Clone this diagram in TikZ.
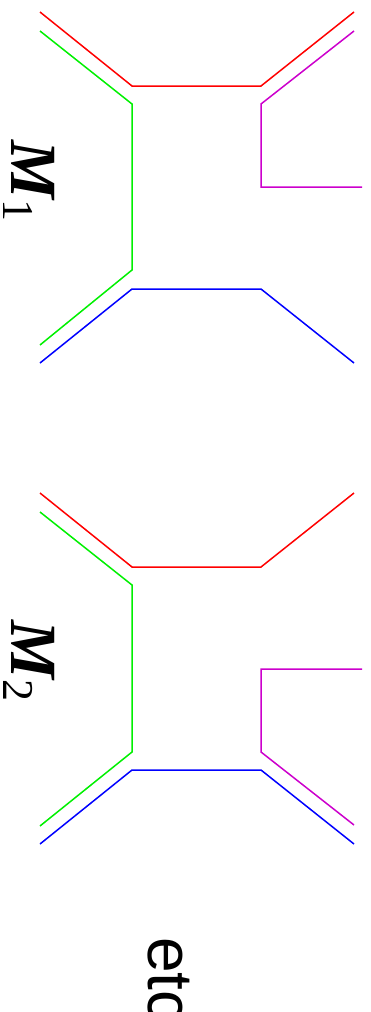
\documentclass[tikz,border=0pt]{standalone}
\usepackage{fontspec}
\setmainfont{Liberation Serif}
\newfontfamily\etcfont{Liberation Sans}
\definecolor{lred}{RGB}{255,0,0}
\definecolor{lgreen}{RGB}{0,240,0}
\definecolor{lmag}{RGB}{204,0,204}
\definecolor{lblue}{RGB}{0,0,255}
\tikzset{
  leg/.style={line width=1.5pt},
  lab/.style={rotate=-90, anchor=base west, inner sep=0pt, outer sep=0pt}
}
\newcommand{\mlabel}[1]{\fontsize{66}{66}\selectfont\bfseries\itshape M\kern1pt\raisebox{-9pt}{\fontsize{44}{44}\selectfont\mdseries\upshape #1}}
\begin{document}
\begin{tikzpicture}[x=1pt,y=-1pt]
\useasboundingbox (0,0) rectangle (370,1012);
% diagram 1
\begin{scope}
\draw[leg,lred] (40,12) -- (132,86) -- (261,86) -- (354,12);
\draw[leg,lgreen] (40,31) -- (132,104) -- (132,270) -- (40,345);
\draw[leg,lmag] (354,31) -- (261,104) -- (261,187) -- (362,187);
\draw[leg,lblue] (40,363) -- (132,289) -- (261,289) -- (354,363);
\node[lab] (m1) at (12,140) {\mlabel{1}};
\end{scope}
% diagram 2
\begin{scope}[yshift=-481pt]
\draw[leg,lred] (40,12) -- (132,86) -- (261,86) -- (354,12);
\draw[leg,lgreen] (40,31) -- (132,104) -- (132,271) -- (40,345);
\draw[leg,lmag] (362,188) -- (261,188) -- (261,271) -- (354,344);
\draw[leg,lblue] (40,363) -- (132,289) -- (261,289) -- (354,363);
\node[lab] (m2) at (12,139) {\mlabel{2}};
\end{scope}
\node[lab] (etc) at (148,937) {\etcfont\fontsize{64}{64}\selectfont etc};
\end{tikzpicture}
\end{document}
